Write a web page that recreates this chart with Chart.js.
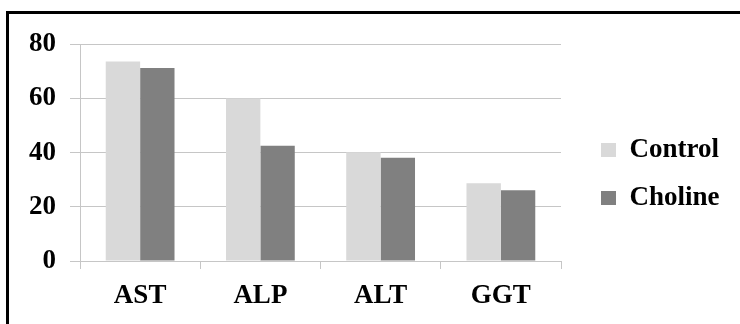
<!DOCTYPE html>
<html>
<head>
<meta charset="utf-8">
<script src="https://cdn.jsdelivr.net/npm/chart.js@4/dist/chart.umd.min.js"></script>
<style>
    html, body { margin: 0; padding: 0; background: #fff; }
    #frame {
        position: absolute; left: 6px; top: 11px; width: 734px; height: 313px;
        border-top: 3px solid #000; border-left: 3px solid #000;
    }
    #wrap { position: absolute; left: 9px; top: 14px; width: 731px; height: 310px; }
</style>
</head>
<body>
<div id="frame"></div>
<div id="wrap"><canvas id="enzymeChart"></canvas></div>
<script>
const categories = ['AST', 'ALP', 'ALT', 'GGT'];
const controlValues = [73.6, 60.0, 40.1, 28.7];
const cholineValues = [71.2, 42.5, 38.1, 26.1];
const yTicks = [0, 20, 40, 60, 80];

const gridColor = '#c6c6c6';
const labelFont = { family: "'Liberation Serif', 'Times New Roman', serif", size: 27, weight: 'bold' };

// keep the legend a fixed width so the plot ends where the reference does
const legendWidthPlugin = {
    id: 'legendWidth',
    beforeInit: function (chart) {
        const fit = chart.legend.fit;
        chart.legend.fit = function () {
            fit.call(this);
            this.width = 160;
        };
    }
};

const ctx = document.getElementById('enzymeChart').getContext('2d');

new Chart(ctx, {
    type: 'bar',
    data: {
        labels: categories,
        datasets: [
            { label: 'Control', data: controlValues, backgroundColor: '#d9d9d9' },
            { label: 'Choline', data: cholineValues, backgroundColor: '#808080' }
        ]
    },
    options: {
        responsive: true,
        maintainAspectRatio: false,
        animation: false,
        categoryPercentage: 0.572,
        barPercentage: 1.0,
        layout: { padding: { top: 29, bottom: 19, left: 0, right: 0 } },
        plugins: {
            tooltip: { enabled: false },
            legend: {
                position: 'right',
                labels: {
                    color: '#000',
                    font: labelFont,
                    boxWidth: 15,
                    boxHeight: 14,
                    padding: 21
                }
            }
        },
        scales: {
            x: {
                grid: { drawOnChartArea: false, drawTicks: true, tickLength: 8, color: gridColor },
                border: { display: true, color: gridColor },
                ticks: { color: '#000', font: labelFont, padding: 11 },
                afterFit: function (scale) { scale.height = 44; }
            },
            y: {
                min: 0,
                max: 80,
                afterBuildTicks: function (scale) {
                    scale.ticks = yTicks.map(v => ({ value: v }));
                },
                grid: { color: gridColor, tickLength: 10 },
                border: { display: true, color: gridColor },
                ticks: { color: '#000', font: labelFont, padding: 14 },
                afterFit: function (scale) { scale.width = 71; }
            },
            spacer: {
                type: 'linear',
                position: 'right',
                display: true,
                grid: { display: false },
                border: { display: false },
                ticks: { display: false },
                afterFit: function (scale) { scale.width = 19; }
            }
        }
    },
    plugins: [legendWidthPlugin]
});
</script>
</body>
</html>
